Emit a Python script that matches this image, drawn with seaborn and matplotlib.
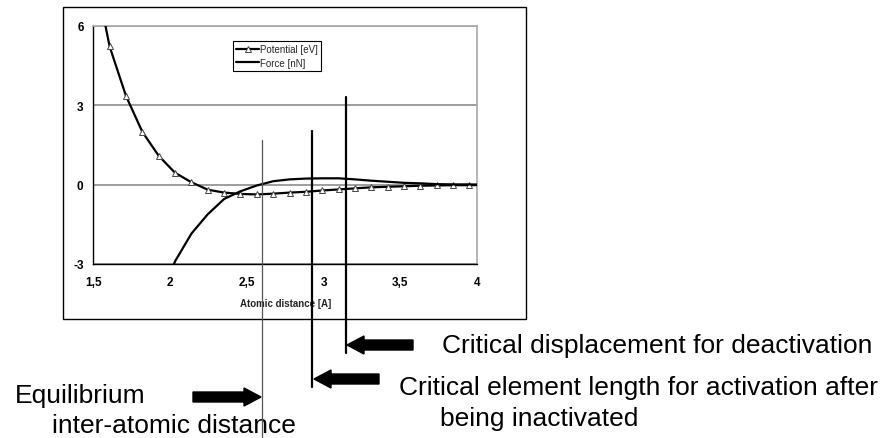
import matplotlib
matplotlib.use("Agg")
import numpy as np
import pandas as pd
import matplotlib.pyplot as plt
import seaborn as sns
from matplotlib import transforms
from matplotlib.patches import FancyArrow, Rectangle
from matplotlib.lines import Line2D

# ---------------- data ----------------
distance = [1.500, 1.606, 1.713, 1.819, 1.926, 2.032, 2.139, 2.245, 2.352, 2.458,
            2.565, 2.671, 2.778, 2.884, 2.991, 3.097, 3.204, 3.310, 3.417, 3.523,
            3.630, 3.736, 3.843, 3.949, 4.055]
potential_ev = [8.30, 5.23, 3.35, 2.00, 1.09, 0.45, 0.09, -0.19, -0.30, -0.35,
                -0.37, -0.34, -0.30, -0.27, -0.22, -0.18, -0.14, -0.10, -0.08, -0.06,
                -0.04, -0.03, -0.02, -0.02, -0.01]
force_distance = [1.926, 2.032, 2.139, 2.245, 2.352, 2.458, 2.565, 2.671, 2.778, 2.884,
                  2.991, 3.097, 3.204, 3.310, 3.417, 3.523, 3.630, 3.736, 3.843, 3.949, 4.055]
force_nn = [-4.60, -2.90, -1.85, -1.12, -0.54, -0.25, -0.03, 0.13, 0.20, 0.23,
            0.24, 0.24, 0.20, 0.15, 0.11, 0.07, 0.05, 0.02, 0.01, 0.01, 0.00]

xticks = [1.5, 2.0, 2.5, 3.0, 3.5, 4.0]
xtick_labels = ["1,5", "2", "2,5", "3", "3,5", "4"]
yticks = [-3, 0, 3, 6]
ytick_labels = ["-3", "0", "3", "6"]

equilibrium_x = 2.60
activation_x = 2.925
deactivation_x = 3.143

series_names = ["Potential [eV]", "Force [nN]"]
xlabel = "Atomic distance [A]"
label_deact = "Critical displacement for deactivation"
label_act_1 = "Critical element length for activation after"
label_act_2 = "being inactivated"
label_eq_1 = "Equilibrium"
label_eq_2 = "inter-atomic distance"

pot_df = pd.DataFrame({"x": distance, "y": potential_ev})
force_df = pd.DataFrame({"x": force_distance, "y": force_nn})

# ---------------- figure ----------------
sns.set_style("white")
plt.rcParams["font.family"] = ["Liberation Sans", "DejaVu Sans"]

W, H = 890, 439
fig = plt.figure(figsize=(W / 100, H / 100), dpi=100)
fig.patch.set_facecolor("white")

# pixel transform (origin top-left)
pix = transforms.Affine2D().scale(1 / W, -1 / H).translate(0, 1) + fig.transFigure

# outer chart frame
fig.add_artist(Rectangle((63, 8), 463, 312, transform=pix, fill=False,
                         edgecolor="black", lw=1.0))

ax = fig.add_axes([93.3 / W, 1 - 265 / H, 384 / W, 238 / H])
ax.set_facecolor("white")

sns.lineplot(data=pot_df, x="x", y="y", ax=ax, color="black", lw=1.6,
             marker="^", markersize=4.5, markerfacecolor="white",
             markeredgecolor="#444444", markeredgewidth=0.7,
             label=series_names[0], sort=False, estimator=None, zorder=3)
sns.lineplot(data=force_df, x="x", y="y", ax=ax, color="black", lw=1.6,
             label=series_names[1], sort=False, estimator=None, zorder=3)

ax.set_xlim(1.5, 4.0)
ax.set_ylim(-3, 6)
ax.set_xticks(xticks)
ax.set_xticklabels(xtick_labels, fontsize=8.5, fontweight="bold")
ax.set_yticks(yticks)
ax.set_yticklabels(ytick_labels, fontsize=8.5, fontweight="bold")
ax.tick_params(axis="x", direction="in", length=3, width=1, pad=8.5, colors="black")
ax.tick_params(axis="y", direction="out", length=4, width=1, pad=3, colors="black")
ax.set_xlabel(xlabel, fontsize=7, fontweight="bold", labelpad=7)
ax.set_ylabel("")

ax.grid(axis="y", color="#8c8c8c", lw=1.2)
ax.grid(axis="x", visible=False)
ax.set_axisbelow(True)
for s in ["top", "right"]:
    ax.spines[s].set_color("#a8a8a8")
    ax.spines[s].set_linewidth(1.2)
for s in ["left", "bottom"]:
    ax.spines[s].set_color("black")
    ax.spines[s].set_linewidth(1.0)

leg = ax.legend(loc="upper left", bbox_to_anchor=(0.364, 0.937), fontsize=7,
                frameon=True, fancybox=False, edgecolor="black", framealpha=1,
                borderaxespad=0, handlelength=2.3, handletextpad=0.1,
                borderpad=0.35, labelspacing=0.35)
leg.get_frame().set_linewidth(0.8)

# vertical marker lines (x in data, y in pixels)
bt = transforms.blended_transform_factory(ax.transData, pix)
fig.add_artist(Line2D([equilibrium_x, equilibrium_x], [141, 439], transform=bt,
                      color="#555555", lw=0.9, zorder=5))
fig.add_artist(Line2D([activation_x, activation_x], [132, 388], transform=bt,
                      color="black", lw=1.6, zorder=5))
fig.add_artist(Line2D([deactivation_x, deactivation_x], [98, 354], transform=bt,
                      color="black", lw=1.6, zorder=5))

# arrows (pixel coordinates)
def arrow(tail_x, tip_x, y):
    fig.add_artist(FancyArrow(tail_x, y, tip_x - tail_x, 0, width=10, head_width=18,
                              head_length=17, length_includes_head=True,
                              color="black", transform=pix, zorder=6))

arrow(413, 347, 346)
arrow(379, 314, 380)
arrow(193, 261, 398)

# annotation texts
tkw = dict(transform=pix, fontsize=19, va="baseline", ha="left", color="black")
fig.text(442, 353, label_deact, **tkw)
fig.text(399, 395, label_act_1, **tkw)
fig.text(440, 426, label_act_2, **tkw)
fig.text(15, 403, label_eq_1, **tkw)
fig.text(52, 433, label_eq_2, **tkw)

fig.savefig("out.png", dpi=100, facecolor="white")
